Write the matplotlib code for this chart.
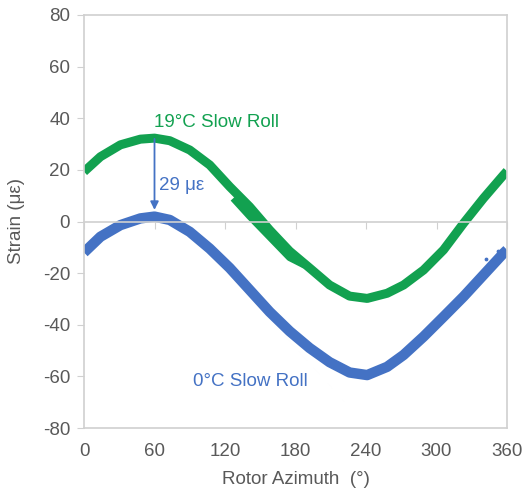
"""Strain vs rotor azimuth for two slow-roll temperatures"""

import matplotlib.pyplot as plt

plt.rcParams['font.family'] = ['Liberation Sans', 'DejaVu Sans']
plt.rcParams['axes.unicode_minus'] = False

# values
green_az = [0, 14, 31, 48, 60, 73, 90, 107, 124, 141, 158, 175, 192, 209, 226,
            241, 258, 272, 289, 306, 323, 340, 357, 360]
green_strain = [19.3, 25.1, 29.7, 31.9, 32.3, 31.3, 27.7, 21.9, 13.5, 5.7, -3.3,
                -11.5, -18, -24.6, -28.9, -29.8, -27.8, -24.6, -18.8, -11, -0.7,
                9, 18, 19.5]

# second pass of the warm run, visible as a split band between 127 and 188 deg
green2_az = [127, 141, 158, 175, 188]
green2_strain = [9, 2, -6, -14, -17]

blue_az = [0, 14, 31, 48, 60, 73, 90, 107, 124, 141, 158, 175, 192, 209, 226,
           241, 258, 272, 289, 306, 323, 340, 357, 360]
blue_strain = [-12, -5.9, -1.4, 1.2, 1.9, 0.6, -4, -10.5, -18, -26.5, -35, -42.5,
               -49, -54.5, -58.5, -59.5, -56.3, -51.7, -44.6, -36.9, -29.1,
               -20.7, -12.3, -11]

# a few stray samples above the cold band near the end
stray_az = [342, 352.6]
stray_strain = [-14.5, -11.3]

x_ticks = [0, 60, 120, 180, 240, 300, 360]
y_ticks = [-80, -60, -40, -20, 0, 20, 40, 60, 80]

GREEN = '#12A150'
BLUE = '#4472C4'
GRID = '#D0D0D0'
TXT = '#595959'
FS = 13.5

fig = plt.figure(figsize=(5.22, 4.92), dpi=100)
ax = fig.add_axes([84 / 522, 64 / 492, 423 / 522, 413 / 492])

ax.plot(green_az, green_strain, color=GREEN, lw=6.5, solid_capstyle='butt',
        solid_joinstyle='round')
ax.plot(green2_az, green2_strain, color=GREEN, lw=5, solid_capstyle='butt',
        solid_joinstyle='round')
ax.plot(blue_az, blue_strain, color=BLUE, lw=7.5, solid_capstyle='butt',
        solid_joinstyle='round')
ax.scatter(stray_az, stray_strain, s=3, color=BLUE, zorder=3)

# temperature shift annotation
ax.annotate('', xy=(60, 4.5), xytext=(60, 32),
            arrowprops=dict(arrowstyle='-|>', color=BLUE, lw=1.3,
                            mutation_scale=12, shrinkA=0, shrinkB=0))
ax.text(64, 14, '29 \u03bc\u03b5', color=BLUE, fontsize=FS, va='center')
ax.text(60, 38.5, '19\u00b0C Slow Roll', color=GREEN, fontsize=FS, va='center')
ax.text(93, -62, '0\u00b0C Slow Roll', color=BLUE, fontsize=FS, va='center')

ax.set_xlim(0, 360)
ax.set_ylim(-80, 80)

# x axis line sits at zero strain, labels at the bottom of the plot area
ax.spines['bottom'].set_position(('data', 0))
for s in ['bottom', 'top', 'left', 'right']:
    ax.spines[s].set_color(GRID)
    ax.spines[s].set_linewidth(1.2)
ax.set_xticks(x_ticks)
ax.tick_params(axis='x', direction='out', length=5, color=GRID, labelbottom=False)
ax.set_yticks(y_ticks)
ax.tick_params(axis='y', direction='out', length=5, color=GRID, labelsize=FS,
               labelcolor=TXT, pad=5)

sec = ax.secondary_xaxis(0.0)
sec.set_xticks(x_ticks)
sec.tick_params(length=0, labelsize=FS, labelcolor=TXT, pad=11)
sec.spines['bottom'].set_color(GRID)
sec.spines['bottom'].set_linewidth(1.2)
sec.set_xlabel('Rotor Azimuth  (\u00b0)', fontsize=FS, color=TXT, labelpad=8)

ax.set_ylabel('Strain (\u03bc\u03b5)', fontsize=FS, color=TXT)
ax.yaxis.set_label_coords(-0.14, 0.5)

plt.savefig('out.png', dpi=100)
